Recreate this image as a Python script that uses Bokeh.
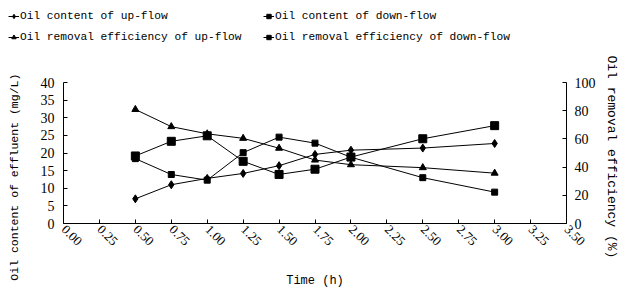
from bokeh.plotting import figure
from bokeh.layouts import column
from bokeh.models import Range1d, LinearAxis, FixedTicker, PrintfTickFormatter, Legend, LegendItem
from bokeh.embed import file_html
from bokeh.resources import INLINE
import math

time_h = [0.5, 0.75, 1.0, 1.25, 1.5, 1.75, 2.0, 2.5, 3.0]
up_content = [7.0, 11.0, 12.8, 14.2, 16.4, 19.6, 20.8, 21.4, 22.7]
down_content = [18.4, 13.9, 12.3, 20.1, 24.5, 22.8, 18.8, 13.0, 8.9]
up_eff = [80.9, 68.7, 63.6, 60.4, 53.4, 45.0, 41.7, 39.6, 35.7]
down_eff = [47.9, 58.3, 62.2, 44.1, 34.8, 38.5, 47.1, 60.1, 69.4]

x_ticks = [i * 0.25 for i in range(15)]
left_ticks = [0, 5, 10, 15, 20, 25, 30, 35, 40]
right_ticks = [0, 20, 40, 60, 80, 100]
labels = ["Oil content of up-flow", "Oil removal efficiency of up-flow",
          "Oil content of down-flow", "Oil removal efficiency of down-flow"]

MONO = "Liberation Mono"
SERIF = "Liberation Serif"
NB = "\u00a0"

LEG_H = 47

p = figure(width=621, height=291 - LEG_H, output_backend="svg", toolbar_location=None,
           x_range=Range1d(0, 3.5), y_range=Range1d(0, 40),
           min_border_left=63, min_border_right=47, min_border_top=82 - LEG_H, min_border_bottom=66)
p.outline_line_color = None
p.xgrid.visible = False
p.ygrid.visible = False
p.extra_y_ranges = {"eff": Range1d(0, 100)}

def style_axis(ax, size, label_size):
    ax.major_tick_in = 4
    ax.major_tick_out = 0
    ax.minor_tick_in = 0
    ax.minor_tick_out = 0
    ax.axis_line_color = "black"
    ax.major_tick_line_color = "black"
    ax.major_label_text_font = SERIF
    ax.major_label_text_font_size = size
    ax.major_label_text_color = "black"
    ax.axis_label_text_font = MONO
    ax.axis_label_text_font_size = label_size
    ax.axis_label_text_font_style = "normal"
    ax.axis_label_text_color = "black"

xa = p.xaxis[0]
xa.ticker = FixedTicker(ticks=x_ticks)
xa.formatter = PrintfTickFormatter(format="%.2f")
xa.major_label_orientation = -math.pi / 4
xa.major_label_standoff = 4
xa.axis_label = "Time (h)"
style_axis(xa, "13px", "12px")
xa.axis_label_standoff = 22

ya = p.yaxis[0]
ya.ticker = FixedTicker(ticks=left_ticks)
ya.axis_label = "Oil content of effluent (mg/L)" + NB * 7
style_axis(ya, "14px", "11.5px")
ya.major_label_standoff = 9
ya.axis_label_standoff = 17

ra = LinearAxis(y_range_name="eff", ticker=FixedTicker(ticks=right_ticks))
ra.axis_label = NB + "Oil removal efficiency (%)"
style_axis(ra, "14px", "13px")
ra.major_label_standoff = 8
ra.axis_label_standoff = 5
p.add_layout(ra, "right")

p.line(time_h, up_content, line_color="black", line_width=1)
p.scatter(time_h, up_content, marker="diamond", size=8, color="black")
p.line(time_h, up_eff, line_color="black", line_width=1, y_range_name="eff")
p.scatter(time_h, up_eff, marker="triangle", size=7, color="black", y_range_name="eff")
p.line(time_h, down_content, line_color="black", line_width=1)
p.scatter(time_h, down_content, marker="square", size=6, color="black")
p.line(time_h, down_eff, line_color="black", line_width=1, y_range_name="eff")
p.scatter(time_h, down_eff, marker="square", size=8, color="black", y_range_name="eff")

# legend strip: same series and styles, drawn out of view so only the legend shows
lg = figure(width=621, height=LEG_H, output_backend="svg", toolbar_location=None,
            x_range=Range1d(-20, -19), y_range=Range1d(-20, -19),
            x_axis_type=None, y_axis_type=None,
            min_border_left=0, min_border_right=0, min_border_top=0, min_border_bottom=0)
lg.outline_line_color = None
lg.xgrid.visible = False
lg.ygrid.visible = False
for fig in (lg, p):
    if "frame_align" in fig.properties():
        fig.frame_align = False
series = [up_content, up_eff, down_content, down_eff]
markers = [("diamond", 8), ("triangle", 7), ("square", 6), ("square", 8)]
items = []
for lab, ys, (mk, sz) in zip(labels, series, markers):
    lr = lg.line(time_h, ys, line_color="black", line_width=1)
    sr = lg.scatter(time_h, ys, marker=mk, size=sz, color="black")
    items.append(LegendItem(label=lab, renderers=[lr, sr]))

legend = Legend(items=items, location=(8, 0), nrows=2)
legend.border_line_color = None
legend.background_fill_alpha = 0
legend.padding = 0
legend.margin = 0
legend.spacing = 1
legend.glyph_width = 11
legend.glyph_height = 20
legend.label_standoff = 1
legend.label_width = 242
legend.label_height = 20
legend.label_text_font = MONO
legend.label_text_font_size = "11.2px"
legend.label_text_color = "black"
lg.add_layout(legend, "center")

layout = column(lg, p, spacing=0)
open("out.html", "w").write(file_html(layout, INLINE))
